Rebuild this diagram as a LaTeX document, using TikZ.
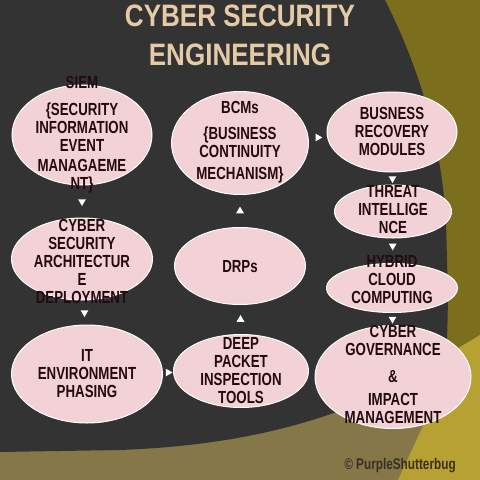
\documentclass[tikz,border=0pt]{standalone}
\usepackage{fontspec}
\setmainfont{Liberation Sans}
\newfontfamily\elfont[FakeStretch=0.76]{Liberation Sans}
\newfontfamily\ttlfont[FakeStretch=0.84]{Liberation Sans}
\usetikzlibrary{calc,shapes.geometric}
\definecolor{bgdark}{HTML}{333333}
\definecolor{bgbrown}{HTML}{867748}
\definecolor{bgolive}{HTML}{7B6E1D}
\definecolor{bgyellow}{HTML}{B7A133}
\definecolor{pinkfill}{HTML}{F3D2D7}
\definecolor{txt}{HTML}{220A0E}
\definecolor{ttlcol}{HTML}{E4CAA5}
\definecolor{copycol}{HTML}{3A3022}
\begin{document}
\begin{tikzpicture}[x=1pt,y=-1pt,
  pinkell/.style={ellipse, fill=pinkfill, draw=white, line width=1pt, inner sep=0pt},
  eltext/.style={font=\elfont\bfseries\fontsize{17.5}{18}\selectfont, text=txt, align=center, inner sep=0pt},
  ttl/.style={font=\ttlfont\bfseries\fontsize{31}{39}\selectfont, align=center, inner sep=0pt},
  tri/.style={regular polygon, regular polygon sides=3, fill=white, inner sep=0pt, minimum size=9pt},
  tridown/.style={tri, shape border rotate=180},
  triup/.style={tri},
  triright/.style={tri, shape border rotate=-90}]
\useasboundingbox (0,0) rectangle (480,480);
% background
\fill[bgbrown] (0,0) rectangle (480,480);
\fill[bgolive] (380,0) -- (480,0) -- (480,340) -- (430,400) -- cycle;
\fill[bgyellow] (480,335) -- (455,350) -- (428,415) -- (398,480) -- (480,480) -- cycle;
\fill[bgdark] (0,0) -- (385,0) .. controls (415,60) and (440,130) .. (446,220)
  -- (448,300) -- (446,385) -- (355,405) .. controls (280,435) and (200,447) .. (120,450)
  -- (0,452) -- cycle;
% title
\node[ttl, text=ttlcol] (title) at (240,35) {CYBER SECURITY\\ENGINEERING};
% ellipses
\node[pinkell, minimum width=140pt, minimum height=100pt] (siem) at (82,135) {};
\node[pinkell, minimum width=141pt, minimum height=82pt] (csad) at (82,259) {};
\node[pinkell, minimum width=151pt, minimum height=98pt] (itp) at (87,374) {};
\node[pinkell, minimum width=135pt, minimum height=73pt] (dpi) at (241,371) {};
\node[pinkell, minimum width=131pt, minimum height=77pt] (drp) at (240,266) {};
\node[pinkell, minimum width=137pt, minimum height=103pt] (bcm) at (240,143) {};
\node[pinkell, minimum width=130pt, minimum height=80pt] (brm) at (392,132) {};
\node[pinkell, minimum width=117pt, minimum height=53pt] (thr) at (393,211.5) {};
\node[pinkell, minimum width=131pt, minimum height=49pt] (hyb) at (392,288) {};
\node[pinkell, minimum width=156pt, minimum height=103pt] (gov) at (393,377) {};
% texts
\node[eltext] (siemt) at (82,135) {SIEM\\[9pt]\{SECURITY\\INFORMATION\\EVENT\\[2pt]MANAGAEME\\NT\}};
\node[eltext] (csadt) at (82,261) {CYBER\\SECURITY\\ARCHITECTUR\\E\\DEPLOYMENT};
\node[eltext] (itpt) at (87,373.5) {IT\\ENVIRONMENT\\PHASING};
\node[eltext] (dpit) at (241,370.5) {DEEP\\PACKET\\INSPECTION\\TOOLS};
\node[eltext] (drpt) at (240,267) {DRPs};
\node[eltext] (bcmt) at (240,142) {BCMs\\[8pt]\{BUSINESS\\CONTINUITY\\[4pt]MECHANISM\}};
\node[eltext] (brmt) at (392,131.5) {BUSNESS\\RECOVERY\\MODULES};
\node[eltext] (thrt) at (393,210) {THREAT\\INTELLIGE\\NCE};
\node[eltext] (hybt) at (392,280) {HYBRID\\CLOUD\\COMPUTING};
\node[eltext] (govt) at (393,374.5) {CYBER\\GOVERNANCE\\[9pt]\&\\[5pt]IMPACT\\MANAGEMENT};
% flow markers
\node[tridown] (a1) at ($(siem.south)!0.5!(csad.north)$) {};
\node[tridown] (a2) at ($(csad.south)!0.5!(itp.north)$) {};
\node[triright] (a3) at ($(itp.east)!0.5!(dpi.west)$) {};
\node[triup] (a4) at ($(dpi.north)!0.5!(drp.south)$) {};
\node[triup] (a5) at ($(drp.north)!0.5!(bcm.south)$) {};
\node[triright] (a6) at ($(bcm.east)!0.5!(brm.west)$) {};
\node[tridown] (a7) at ($(brm.south)!0.5!(thr.north)$) {};
\node[tridown] (a8) at ($(thr.south)!0.3!(hyb.north)$) {};
\node[tridown] (a9) at ($(hyb.south)!0.5!(gov.north)$) {};
% copyright
\node[font=\elfont\bfseries\fontsize{15.5}{18}\selectfont, text=copycol, inner sep=0pt] (copy) at (400,466) {© PurpleShutterbug};
\end{tikzpicture}
\end{document}
